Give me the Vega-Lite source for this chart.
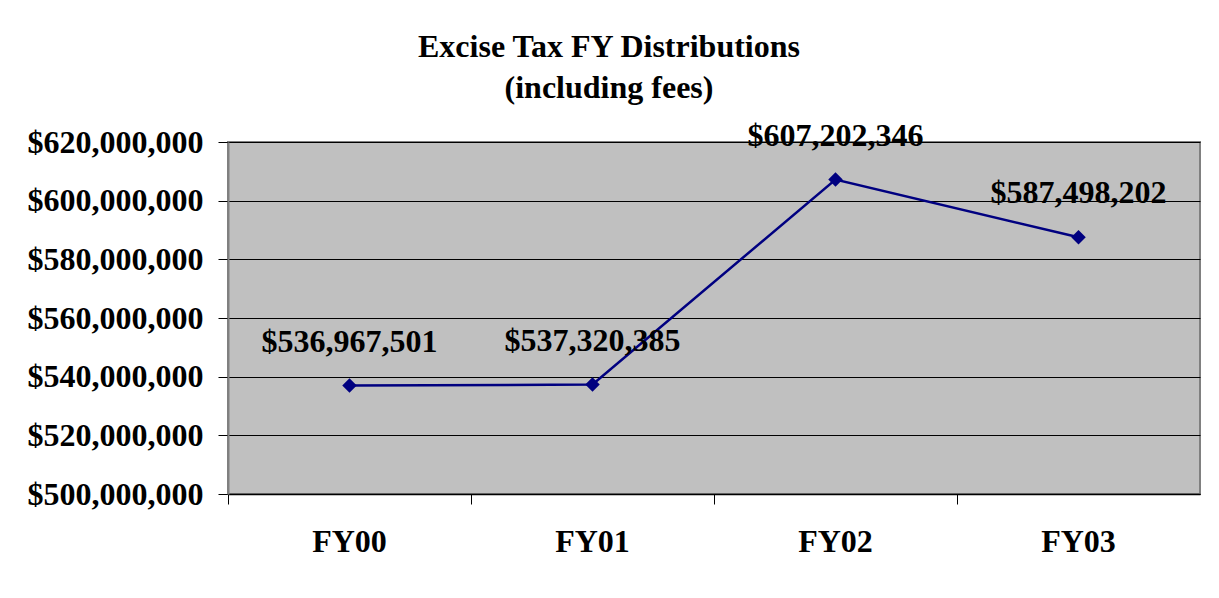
{
  "$schema": "https://vega.github.io/schema/vega-lite/v6.json",
  "autosize": "none",
  "width": 972,
  "height": 352,
  "padding": {"left": 228, "top": 142, "right": 19, "bottom": 104},
  "background": "white",
  "title": {
    "text": ["Excise Tax FY Distributions", "(including fees)"],
    "font": "Liberation Serif",
    "fontSize": 32,
    "fontWeight": "bold",
    "color": "black",
    "anchor": "middle",
    "dx": -105,
    "offset": 15,
    "lineHeight": 41
  },
  "data": {
    "values": [
      {"year": "FY00", "amount": 536967501},
      {"year": "FY01", "amount": 537320385},
      {"year": "FY02", "amount": 607202346},
      {"year": "FY03", "amount": 587498202}
    ]
  },
  "encoding": {
    "x": {
      "field": "year",
      "type": "nominal",
      "sort": null,
      "scale": {"type": "band", "paddingInner": 0, "paddingOuter": 0},
      "axis": {
        "title": null,
        "bandPosition": 0,
        "labelAngle": 0,
        "labelFont": "Liberation Serif",
        "labelFontSize": 32,
        "labelFontWeight": "bold",
        "labelColor": "black",
        "labelPadding": 22,
        "tickSize": 10,
        "tickColor": "black",
        "domainColor": "black",
        "domainWidth": 1.5,
        "grid": false
      }
    },
    "y": {
      "field": "amount",
      "type": "quantitative",
      "scale": {"domain": [500000000, 620000000], "zero": false, "nice": false},
      "axis": {
        "title": null,
        "values": [500000000, 520000000, 540000000, 560000000, 580000000, 600000000, 620000000],
        "format": "$,.0f",
        "labelFont": "Liberation Serif",
        "labelFontSize": 32,
        "labelFontWeight": "bold",
        "labelColor": "black",
        "labelPadding": 15,
        "tickSize": 10,
        "tickColor": "black",
        "domainColor": "#808080",
        "domainWidth": 2,
        "grid": true,
        "gridColor": "black",
        "gridWidth": 1,
        "gridOpacity": 1
      }
    }
  },
  "layer": [
    {
      "mark": {"type": "line", "color": "#000080", "strokeWidth": 2.5}
    },
    {
      "mark": {"type": "point", "shape": "diamond", "filled": true, "color": "#000080", "size": 210, "opacity": 1}
    },
    {
      "mark": {
        "type": "text",
        "font": "Liberation Serif",
        "fontSize": 32,
        "fontWeight": "bold",
        "color": "black",
        "dy": -44
      },
      "encoding": {
        "text": {"field": "amount", "type": "quantitative", "format": "$,.0f"}
      }
    }
  ],
  "config": {
    "view": {"fill": "#C0C0C0", "stroke": "#808080", "strokeWidth": 2}
  }
}
